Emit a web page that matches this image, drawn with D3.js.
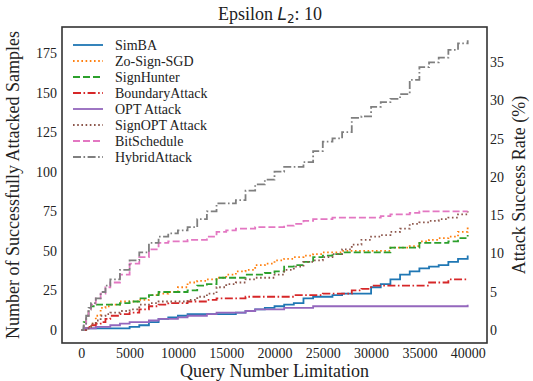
<!DOCTYPE html>
<meta charset="utf-8">
<script src="https://d3js.org/d3.v7.min.js"></script>
<style>
body { margin: 0; background: #fff; }
text { font-family: "Liberation Serif", "Times New Roman", serif; fill: #222; }
.tick text { font-size: 14px; }
.axis .domain { display: none; }
.axis line { display: none; }
</style>
<body>
<script>

// query budgets (finer at the start, then every 1000)
var queries = [0,250,500,750,1000,1500,2000,2500,3000].concat(d3.range(4000, 40001, 1000));

var simba =    [0,1,1,1,1,1,1,1,1, 1,2,3,5,7,8,9,10,10,10,10,10,11,12,13,14,15,16,17,20,21,21,22,23,23,23,27,29,32,35,37,39,40,41,43,45,47];
var zoSign =   [0,0,1,2,4,9,14,15,16, 18,18,19,22,23,24,27,30,31,32,33,35,37,38,41,42,44,45,46,47,48,49,49,50,50,50,50,50,52,52,53,56,57,58,59,62,65];
var signHunter=[0,5,9,13,15,16,16,16,16, 17,18,20,22,24,24,24,25,28,29,33,33,33,35,35,36,37,40,41,43,46,47,48,49,49,49,49,49,52,52,52,55,55,55,56,58,60];
var boundary = [0,0,1,2,3,4,5,7,9, 10,11,13,15,16,17,17,18,18,19,20,20,20,21,21,21,21,21,22,22,22,23,23,23,25,26,28,28,28,28,28,28,30,30,32,32,32];
var opt =      [0,1,1,1,1,2,2,2,3, 4,5,5,6,7,7,8,9,9,10,11,11,11,12,13,13,13,14,14,14,15,15,15,15,15,15,15,15,15,15,15,15,15,15,15,15,16];
var signOpt =  [0,0,1,2,4,6,9,10,11, 12,13,16,17,18,18,18,19,21,23,27,29,30,32,33,33,35,38,40,43,44,46,48,51,54,57,59,60,62,64,67,68,69,70,71,73,75];
var bitSched = [0,4,9,13,16,20,23,27,30, 35,42,46,51,55,56,56,57,57,59,62,63,64,64,65,65,65,66,67,69,70,70,71,71,71,71,71,72,73,73,74,75,75,75,75,75,75];
var hybrid =   [0,4,9,14,17,20,24,28,32, 38,44,49,55,59,61,63,65,70,75,80,80,82,88,92,95,100,103,103,106,113,119,121,125,134,135,141,144,146,149,158,166,169,172,177,181,183];

var names = ["SimBA","Zo-Sign-SGD","SignHunter","BoundaryAttack","OPT Attack","SignOPT Attack","BitSchedule","HybridAttack"];
var colors = ["#1f77b4","#ff7f0e","#2ca02c","#d62728","#9467bd","#8c564b","#e377c2","#7f7f7f"];
var dashes = [null,"1.6,2.6","7,3",  "8,2.5,1.6,2.5", null,"1.6,2.6","7,3","8,2.5,1.6,2.5"];
var values = [simba, zoSign, signHunter, boundary, opt, signOpt, bitSched, hybrid];

var xTicks = d3.range(0, 40001, 5000);
var yTicks = d3.range(0, 176, 25);
var rTicks = d3.range(0, 36, 5);

var width = 533, height = 381;
var pLeft = 62, pRight = 487, pTop = 27, pBottom = 343;

// samples per 1% of success rate
var perPercent = 4.835;

var svg = d3.select("body").append("svg")
    .attr("width", width)
    .attr("height", height);

var x = d3.scaleLinear().domain([-2000, 42000]).range([pLeft, pRight]);
var y = d3.scaleLinear().domain([-8.2, 191.4]).range([pBottom, pTop]);
var y2 = d3.scaleLinear().domain([-8.2 / perPercent, 191.4 / perPercent]).range([pBottom, pTop]);

// axes
svg.append("g")
    .attr("class", "axis")
    .attr("transform", "translate(0," + pBottom + ")")
    .call(d3.axisBottom(x).tickValues(xTicks).tickSize(0).tickPadding(5).tickFormat(d3.format("d")));

svg.append("g")
    .attr("class", "axis")
    .attr("transform", "translate(" + pLeft + ",0)")
    .call(d3.axisLeft(y).tickValues(yTicks).tickSize(0).tickPadding(5));

svg.append("g")
    .attr("class", "axis")
    .attr("transform", "translate(" + pRight + ",0)")
    .call(d3.axisRight(y2).tickValues(rTicks).tickSize(0).tickPadding(3));

svg.selectAll(".tick text").style("fill", "#222");

// series
var line = d3.line()
    .x(function(d) { return x(d[0]); })
    .y(function(d) { return y(d[1]); })
    .curve(d3.curveStepAfter);

values.forEach(function(v, i) {
  svg.append("path")
      .datum(queries.map(function(q, j) { return [q, v[j]]; }))
      .attr("d", line)
      .attr("fill", "none")
      .attr("stroke", colors[i])
      .attr("stroke-width", 1.8)
      .attr("stroke-dasharray", dashes[i]);
});

// frame
svg.append("rect")
    .attr("x", pLeft)
    .attr("y", pTop)
    .attr("width", pRight - pLeft)
    .attr("height", pBottom - pTop)
    .attr("fill", "none")
    .attr("stroke", "#333")
    .attr("stroke-width", 1.6);

// legend
var legend = svg.append("g").attr("transform", "translate(73,45)");
names.forEach(function(n, i) {
  var g = legend.append("g").attr("transform", "translate(0," + (i * 16) + ")");
  g.append("line")
      .attr("x1", 0).attr("x2", 30)
      .attr("stroke", colors[i])
      .attr("stroke-width", 1.8)
      .attr("stroke-dasharray", dashes[i]);
  g.append("text")
      .attr("x", 42)
      .attr("dy", "0.35em")
      .style("font-size", "14px")
      .text(n);
});

// labels
var title = svg.append("text")
    .attr("x", 270)
    .attr("y", 20)
    .attr("text-anchor", "middle")
    .style("font-size", "18px");
title.append("tspan").text("Epsilon ");
title.append("tspan").style("font-family", "DejaVu Sans").style("font-style", "italic").style("font-size", "17px").text("L");
title.append("tspan").attr("dy", 3).style("font-family", "DejaVu Sans").style("font-size", "12px").text("2");
title.append("tspan").attr("dy", -3).text(": 10");

svg.append("text")
    .attr("x", (pLeft + pRight) / 2)
    .attr("y", 377)
    .attr("text-anchor", "middle")
    .style("font-size", "18px")
    .text("Query Number Limitation");

svg.append("text")
    .attr("transform", "translate(19," + ((pTop + pBottom) / 2) + ") rotate(-90)")
    .attr("text-anchor", "middle")
    .style("font-size", "18px")
    .text("Number of Successfully Attacked Samples");

svg.append("text")
    .attr("transform", "translate(525," + ((pTop + pBottom) / 2) + ") rotate(-90)")
    .attr("text-anchor", "middle")
    .style("font-size", "18px")
    .text("Attack Success Rate (%)");

</script>
</body>
</html>
